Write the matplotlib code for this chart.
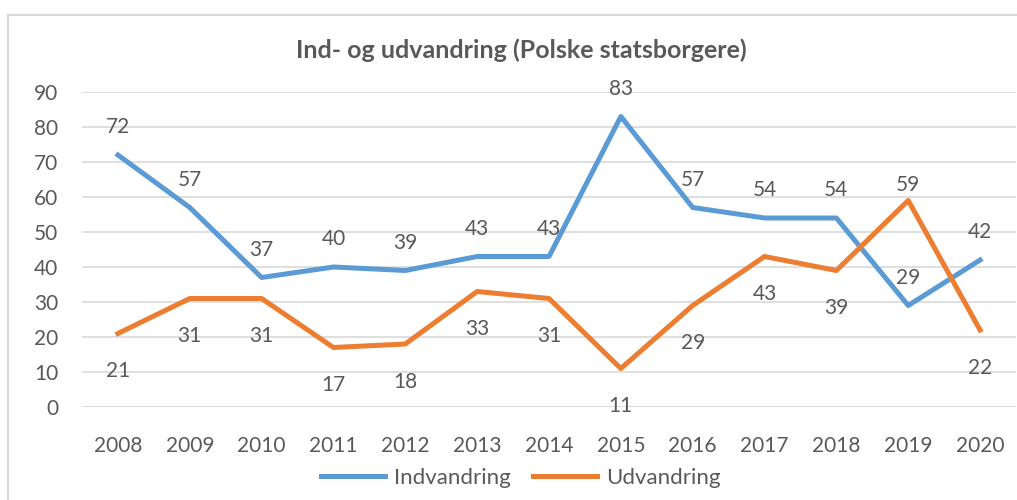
import numpy as np
import matplotlib.pyplot as plt
from matplotlib.patches import Rectangle

years = ['2008', '2009', '2010', '2011', '2012', '2013', '2014',
         '2015', '2016', '2017', '2018', '2019', '2020']
indvandring = [72, 57, 37, 40, 39, 43, 43, 83, 57, 54, 54, 29, 42]
udvandring = [21, 31, 31, 17, 18, 33, 31, 11, 29, 43, 39, 59, 22]

plt.rcParams['font.family'] = ['Lato', 'DejaVu Sans']
grey = '#595959'
blue = '#5b9bd5'
orange = '#ed7d31'

fig = plt.figure(figsize=(10.17, 5), dpi=100)
ax = fig.add_axes([82 / 1017, 1 - 407 / 500, 934 / 1017, 315 / 500])

# chart border
fig.patches.append(Rectangle((8 / 1017, -0.1), 1.1, 0.1 + 485 / 500, transform=fig.transFigure,
                             fill=False, edgecolor='#d9d9d9', linewidth=1.5))

x = np.arange(len(years))
ax.plot(x, indvandring, color=blue, lw=3.6, label='Indvandring')
ax.plot(x, udvandring, color=orange, lw=3.6, label='Udvandring')

# data labels: blue above, orange below (2019 orange sits above)
for xi, v in zip(x, indvandring):
    ax.annotate(str(v), (xi, v), xytext=(0, 20), textcoords='offset points',
                ha='center', va='center', fontsize=15, color=grey)
for xi, v in zip(x, udvandring):
    if years[xi] == '2019':
        ax.annotate(str(v), (xi, v), xytext=(0, 11.5), textcoords='offset points',
                    ha='center', va='center', fontsize=15, color=grey)
    else:
        ax.annotate(str(v), (xi, v), xytext=(0, -27), textcoords='offset points',
                    ha='center', va='center', fontsize=15, color=grey)

ax.set_xlim(-0.5, len(years) - 0.5)
ax.set_ylim(0, 90)
ax.set_yticks(range(0, 91, 10))
ax.set_xticks(x)
ax.set_xticklabels(years)
ax.grid(axis='y', color='#d9d9d9', lw=1.2)
ax.set_axisbelow(True)
for s in ax.spines.values():
    s.set_visible(False)
ax.tick_params(length=0, labelsize=15, colors=grey)
ax.tick_params(axis='x', pad=21)
ax.tick_params(axis='y', pad=17)

fig.text(0.513, 1 - 50 / 500, 'Ind- og udvandring (Polske statsborgere)',
         ha='center', va='center', fontsize=18, fontweight='bold', color=grey)

ax.legend(loc='center', bbox_to_anchor=(0.512, 1 - 478 / 500), bbox_transform=fig.transFigure,
          ncol=2, frameon=False, fontsize=16, labelcolor=grey, handlelength=2.9,
          columnspacing=1.0, handletextpad=0.4)

fig.savefig('out.png', dpi=100)
